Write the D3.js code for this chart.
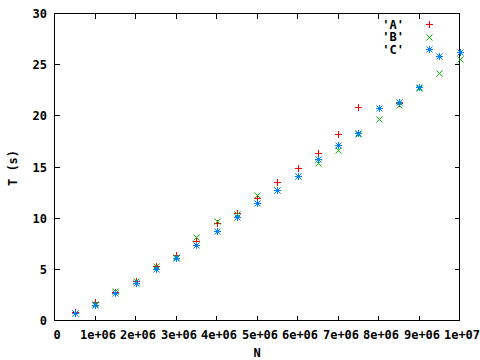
<!DOCTYPE html>
<html><head><meta charset="utf-8">
<script src="https://cdn.jsdelivr.net/npm/d3@7"></script>
<style>body{margin:0;background:#fff}svg{display:block}</style>
</head><body>
<svg id="c" width="480" height="360"></svg>
<script>
const N = [0.5e6,1e6,1.5e6,2e6,2.5e6,3e6,3.5e6,4e6,4.5e6,5e6,5.5e6,6e6,6.5e6,7e6,7.5e6,8e6,8.5e6,9e6,9.5e6,1e7];
const seriesA = [0.8,1.8,2.8,3.9,5.35,6.4,7.8,9.5,10.5,12.0,13.5,14.95,16.4,18.25,20.9,20.8,21.3,22.8,25.8,26.2];
const seriesB = [0.7,1.6,2.85,3.85,5.3,6.2,8.2,9.7,10.4,12.3,12.8,14.1,15.4,16.7,18.2,19.7,21.1,22.7,24.2,25.6];
const seriesC = [0.7,1.55,2.65,3.7,5.0,6.1,7.4,8.7,10.1,11.45,12.75,14.15,15.8,17.15,18.3,20.8,21.35,22.8,25.8,26.2];
const seriesNames = ["'A'","'B'","'C'"];
const seriesColors = ["#ff0000","#00c000","#0080ff"];
const xTicks = [0,1e6,2e6,3e6,4e6,5e6,6e6,7e6,8e6,9e6,1e7];
const xTickLabels = ["0","1e+06","2e+06","3e+06","4e+06","5e+06","6e+06","7e+06","8e+06","9e+06","1e+07"];
const yTicks = [0,5,10,15,20,25,30];
const xTitle = "N", yTitle = "T (s)";

const svg = d3.select("#c");
const FONT = "'DejaVu Sans Mono', monospace";
const x = d3.scaleLinear().domain([0,1e7]).range([54.5,459.5]);
const y = d3.scaleLinear().domain([0,30]).range([320.5,13.5]);
const L=54.5,R=459.5,T=13.5,B=320.5, TL=5;

const g = svg.append("g").attr("shape-rendering","crispEdges");
g.append("rect").attr("x",L).attr("y",T).attr("width",R-L).attr("height",B-T)
 .attr("fill","none").attr("stroke","#000").attr("stroke-width",1);

xTicks.forEach((t,i)=>{
  const px = Math.round(x(t)-0.5)+0.5;
  if(i>0 && i<xTicks.length-1){
    g.append("line").attr("x1",px).attr("x2",px).attr("y1",B).attr("y2",B-TL).attr("stroke","#000");
    g.append("line").attr("x1",px).attr("x2",px).attr("y1",T).attr("y2",T+TL).attr("stroke","#000");
  }
  svg.append("text").attr("x",px+2.5).attr("y",339).attr("text-anchor","middle")
    .attr("font-family",FONT).attr("font-weight","bold").attr("font-size",12).text(xTickLabels[i]);
});
yTicks.forEach((t,i)=>{
  const py = Math.round(y(t)-0.5)+0.5;
  if(i>0 && i<yTicks.length-1){
    g.append("line").attr("x1",L).attr("x2",L+TL).attr("y1",py).attr("y2",py).attr("stroke","#000");
    g.append("line").attr("x1",R).attr("x2",R-TL).attr("y1",py).attr("y2",py).attr("stroke","#000");
  }
  svg.append("text").attr("x",47).attr("y",py+4.5).attr("text-anchor","end")
    .attr("font-family",FONT).attr("font-weight","bold").attr("font-size",12).text(String(t));
});
svg.append("text").attr("x",257).attr("y",357).attr("text-anchor","middle")
  .attr("font-family",FONT).attr("font-weight","bold").attr("font-size",12).text(xTitle);
svg.append("text").attr("transform","translate(17,168) rotate(-90)").attr("text-anchor","middle")
  .attr("font-family",FONT).attr("font-weight","bold").attr("font-size",12).text(yTitle);

function marker(sel, type, cx, cy, color){
  cx = Math.round(cx)+0.5; cy = Math.round(cy)+0.5;
  const s=3;
  const gg = sel.append("g").attr("stroke",color).attr("stroke-width",1).attr("fill","none");
  if(type===0 || type===2){
    gg.append("line").attr("x1",cx-s-0.5).attr("x2",cx+s+0.5).attr("y1",cy).attr("y2",cy).attr("shape-rendering","crispEdges");
    gg.append("line").attr("x1",cx).attr("x2",cx).attr("y1",cy-s-0.5).attr("y2",cy+s+0.5).attr("shape-rendering","crispEdges");
  }
  if(type===1 || type===2){
    gg.append("line").attr("x1",cx-s).attr("x2",cx+s).attr("y1",cy-s).attr("y2",cy+s);
    gg.append("line").attr("x1",cx-s).attr("x2",cx+s).attr("y1",cy+s).attr("y2",cy-s);
  }
  if(type===2){
    sel.append("circle").attr("cx",cx).attr("cy",cy).attr("r",1.8).attr("fill",color);
  }
}

const allSeries = [seriesA, seriesB, seriesC];
const pg = svg.append("g");
allSeries.forEach((vals,si)=>{
  vals.forEach((v,i)=> marker(pg, si, x(N[i]), y(v), seriesColors[si]));
});

// legend
seriesNames.forEach((nm,si)=>{
  const ly = 24 + si*12.7;
  svg.append("text").attr("x",404).attr("y",ly+4.5).attr("text-anchor","end")
    .attr("font-family",FONT).attr("font-weight","bold").attr("font-size",12).text(nm);
  marker(svg, si, 429, ly, seriesColors[si]);
});
</script>
</body></html>
